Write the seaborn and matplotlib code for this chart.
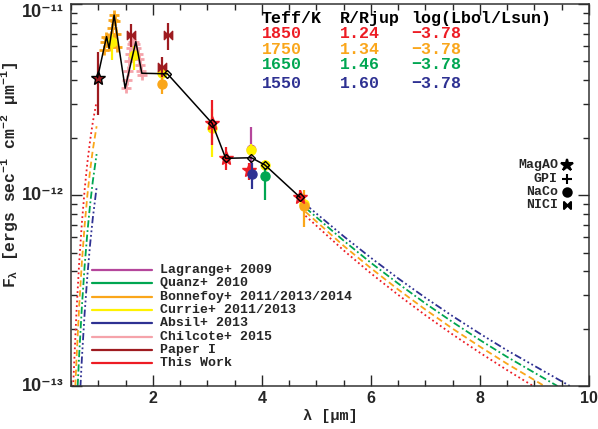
import numpy as np
import pandas as pd
import matplotlib
matplotlib.use('Agg')
import matplotlib.pyplot as plt
import seaborn as sns
from matplotlib.path import Path
from matplotlib.ticker import MultipleLocator, LogLocator, NullFormatter

# All fluxes are in units of 1e-12 ergs/s/cm2/um
scale = 1e-12

# Blackbody extrapolations, short and long wavelength pieces
bb1850_wl_s = [0.54, 0.55, 0.60, 0.65, 0.70, 0.75, 0.80, 0.85, 0.90, 0.96]
bb1850_f_s = [0.0991, 0.1153, 0.2427, 0.4406, 0.7145, 1.062, 1.472, 1.923, 2.404, 2.985]
bb1850_wl_l = [4.8, 5.5, 6.0, 6.5, 7.0, 7.5, 8.0, 8.5, 9.0]
bb1850_f_l = [0.778, 0.513, 0.389, 0.300, 0.2347, 0.186, 0.1493, 0.121, 0.099]

bb1750_wl_s = [0.58, 0.60, 0.65, 0.70, 0.75, 0.80, 0.85, 0.90, 0.97]
bb1750_f_s = [0.1002, 0.1358, 0.2612, 0.4457, 0.6902, 0.9931, 1.340, 1.722, 2.291]
bb1750_wl_l = [4.8, 5.5, 6.0, 6.5, 7.0, 7.5, 8.0, 8.5, 9.2]
bb1750_f_l = [0.817, 0.542, 0.414, 0.320, 0.2512, 0.1995, 0.1607, 0.1306, 0.0993]

bb1650_wl_s = [0.623, 0.65, 0.70, 0.75, 0.80, 0.85, 0.90, 0.97]
bb1650_f_s = [0.100, 0.1449, 0.2606, 0.4236, 0.6339, 0.889, 1.180, 1.637]
bb1650_wl_l = [4.8, 5.5, 6.0, 6.5, 7.0, 7.5, 8.0, 8.5, 9.42]
bb1650_f_l = [0.857, 0.577, 0.4416, 0.344, 0.2706, 0.216, 0.1740, 0.1419, 0.100]

bb1550_wl_s = [0.673, 0.70, 0.75, 0.80, 0.85, 0.90, 0.97]
bb1550_f_s = [0.0987, 0.1396, 0.2393, 0.3758, 0.5495, 0.7568, 1.096]
bb1550_wl_l = [4.8, 5.5, 6.0, 6.5, 7.0, 7.5, 8.0, 8.5, 9.65]
bb1550_f_l = [0.893, 0.608, 0.469, 0.366, 0.2897, 0.232, 0.1879, 0.1535, 0.100]

teff = ['1850', '1750', '1650', '1550']
radius = ['1.24', '1.34', '1.46', '1.60']
logl = ['\u22123.78', '\u22123.78', '\u22123.78', '\u22123.78']

# Composite SED used for Lbol
sed_wl = [0.987, 1.152, 1.199, 1.291, 1.493, 1.689, 1.799, 2.269, 3.09, 3.337, 3.808, 4.057, 4.70]
sed_f = [4.11, 6.75, 5.86, 8.75, 3.62, 6.35, 4.34, 4.31, 2.37, 1.556, 1.567, 1.436, 0.973]
sed_phot_wl = [2.269, 3.09, 3.337, 3.808, 4.057, 4.70]
sed_phot_f = [4.31, 2.37, 1.556, 1.567, 1.436, 0.973]

# Spectra (GPI)
bonnefoy_j_wl = [1.11, 1.13, 1.15, 1.17, 1.19, 1.21, 1.23, 1.25, 1.27, 1.29, 1.31, 1.33, 1.35]
bonnefoy_j_f = [5.75, 6.30, 6.70, 6.60, 6.00, 6.10, 6.80, 7.50, 8.20, 8.75, 8.10, 7.00, 5.95]
chilcote_h_wl = [1.50, 1.52, 1.54, 1.56, 1.58, 1.60, 1.62, 1.64, 1.66, 1.68, 1.70, 1.72,
                 1.74, 1.76, 1.78, 1.80]
chilcote_h_f = [3.63, 3.98, 4.47, 5.01, 5.50, 5.89, 6.17, 6.31, 6.31, 6.17, 5.89, 5.50,
                5.13, 4.79, 4.47, 4.27]

# Photometry: wavelength, flux, lower bound, upper bound
paper1_star_wl = [0.987]
paper1_star_f = [4.08]
paper1_star_lo = [2.62]
paper1_star_hi = [5.62]
nici_wl = [1.597, 2.178, 2.28]
nici_f = [6.89, 4.70, 6.89]
nici_lo = [5.97, 4.16, 5.75]
nici_hi = [7.85, 5.30, 7.94]

thiswork_wl = [3.09, 3.337, 3.76, 4.70]
thiswork_f = [2.37, 1.556, 1.35, 0.973]
thiswork_lo = [1.83, 1.35, 1.20, 0.923]
thiswork_hi = [3.14, 1.79, 1.47, 1.062]

lagrange_wl = [3.80]
lagrange_f = [1.74]
lagrange_lo = [1.40]
lagrange_hi = [2.28]

currie_wl = [1.25, 1.66, 2.16, 3.09, 3.80, 4.05, 4.78]
currie_f = [6.31, 5.41, 4.37, 2.23, 1.72, 1.435, 0.90]
currie_lo = [5.10, 4.50, 3.90, 1.585, 1.60, 1.35, 0.84]
currie_hi = [7.00, 6.00, 4.80, 2.82, 1.85, 1.53, 0.96]

bonnefoy_wl = [2.16, 4.78]
bonnefoy_f = [3.80, 0.871]
bonnefoy_lo = [3.37, 0.682]
bonnefoy_hi = [4.51, 1.06]

quanz_wl = [4.05]
quanz_f = [1.262]
quanz_lo = [0.94]
quanz_hi = [1.38]

absil_wl = [3.82]
absil_f = [1.288]
absil_lo = [1.07]
absil_hi = [1.47]

legend_labels = ['Lagrange+ 2009', 'Quanz+ 2010', 'Bonnefoy+ 2011/2013/2014', 'Currie+ 2011/2013',
                 'Absil+ 2013', 'Chilcote+ 2015', 'Paper I', 'This Work']
legend_colors = ['#b5469b', '#00a651', '#faa61a', '#fff200', '#2e3192', '#f5a3aa', '#9e1b20', '#ed1c24']
c_lag, c_quanz, c_bonn, c_cur, c_absil, c_chil, c_p1, c_tw = legend_colors

model_colors = ['#ed1c24', '#faa61a', '#00a651', '#2e3192']
model_ls = [(0, (1, 1.6)), (0, (3.5, 2)), (0, (4, 1.5, 1, 1.5)), (0, (4, 1.5, 1, 1.5, 1, 1.5, 1, 1.5))]

ytick_vals = [1e-13, 1e-12, 1e-11]
ytick_labels = ['10\u207b\u00b9\u00b3', '10\u207b\u00b9\u00b2', '10\u207b\u00b9\u00b9']

sns.set_style('ticks')
plt.rcParams['font.family'] = ['Liberation Sans', 'DejaVu Sans']
plt.rcParams['font.weight'] = 'bold'
plt.rcParams['mathtext.default'] = 'regular'
mono = ['Liberation Mono', 'DejaVu Sans Mono']

fig, ax = plt.subplots(figsize=(5.98, 4.29), dpi=100, facecolor='w')
fig.subplots_adjust(left=0.1187, right=0.985, bottom=0.1002, top=0.9907)
ax.set_yscale('log')

# Model curves
models = [
    (bb1850_wl_s, bb1850_f_s, bb1850_wl_l, bb1850_f_l),
    (bb1750_wl_s, bb1750_f_s, bb1750_wl_l, bb1750_f_l),
    (bb1650_wl_s, bb1650_f_s, bb1650_wl_l, bb1650_f_l),
    (bb1550_wl_s, bb1550_f_s, bb1550_wl_l, bb1550_f_l),
]
for (ws, fs, wl, fl), col, ls in zip(models, model_colors, model_ls):
    for w, f in [(ws, fs), (wl, fl)]:
        df = pd.DataFrame({'wl': w, 'flux': np.array(f) * scale})
        sns.lineplot(data=df, x='wl', y='flux', ax=ax, color=col, linestyle=ls, lw=1.3,
                     sort=False, estimator=None, legend=False, zorder=2)

def errpts(wl, f, lo, hi, color, marker, ms, mec=None, z=3, xerr=None):
    f = np.array(f)
    yerr = np.array([f - np.array(lo), np.array(hi) - f]) * scale
    ax.errorbar(wl, f * scale, yerr=yerr, xerr=xerr, fmt='none', ecolor=color,
                elinewidth=1.6, capsize=0, zorder=z)
    ax.plot(wl, f * scale, linestyle='none', marker=marker, color=color, ms=ms,
            mec=mec if mec else color, zorder=z)

# Spectra
ax.plot(bonnefoy_j_wl, np.array(bonnefoy_j_f) * scale, '+', color=c_bonn, ms=7, mew=2, zorder=3)
ax.plot(chilcote_h_wl, np.array(chilcote_h_f) * scale, '+', color=c_chil, ms=7, mew=2, zorder=3)

# Photometry
errpts(lagrange_wl, lagrange_f, lagrange_lo, lagrange_hi, c_lag, 'o', 6, z=3)
errpts(currie_wl, currie_f, currie_lo, currie_hi, c_cur, 'o', 6.5, z=3.1)
errpts(bonnefoy_wl, bonnefoy_f, bonnefoy_lo, bonnefoy_hi, c_bonn, 'o', 6.5, z=3.2)
errpts(quanz_wl, quanz_f, quanz_lo, quanz_hi, c_quanz, 'o', 6.5, z=3.2)
errpts(thiswork_wl, thiswork_f, thiswork_lo, thiswork_hi, c_tw, '*', 10, z=3.3)
errpts(absil_wl, absil_f, absil_lo, absil_hi, c_absil, 'o', 6.5, z=3.4)
bowtie = Path([(-1, -1), (-1, 1), (1, -1), (1, 1), (-1, -1)],
              [Path.MOVETO, Path.LINETO, Path.LINETO, Path.LINETO, Path.CLOSEPOLY])
errpts(nici_wl, nici_f, nici_lo, nici_hi, c_p1, bowtie, 6, z=3.4, xerr=0.07)
errpts(paper1_star_wl, paper1_star_f, paper1_star_lo, paper1_star_hi, c_p1, '*', 10, mec='k', z=3.5)

# Composite SED
sed_df = pd.DataFrame({'wl': sed_wl, 'flux': np.array(sed_f) * scale})
sns.lineplot(data=sed_df, x='wl', y='flux', ax=ax, color='k', lw=1.1, sort=False,
             estimator=None, legend=False, zorder=5)
ax.plot(sed_phot_wl, np.array(sed_phot_f) * scale, 'D', ms=4.5, mfc='none', mec='k', mew=1.0, zorder=6)

ax.set_xlim(0.5, 10)
ax.set_ylim(1e-13, 1e-11)
ax.set_xticks([2, 4, 6, 8, 10])
ax.xaxis.set_minor_locator(MultipleLocator(0.5))
ax.set_yticks(ytick_vals, labels=ytick_labels)
ax.yaxis.set_minor_locator(LogLocator(base=10, subs=np.arange(2, 10)))
ax.yaxis.set_minor_formatter(NullFormatter())
ax.tick_params(which='both', direction='in', top=True, right=True, labelsize=11.5, width=1)
ax.tick_params(which='major', length=8)
ax.tick_params(which='minor', length=4)
ax.tick_params(axis='y', pad=5)
ylabs = ax.get_yticklabels()
for lab in ylabs:
    lab.set_fontsize(13)
    lab.set_va('center')
ylabs[-1].set_va('top')
for sp in ax.spines.values():
    sp.set_linewidth(1.1)
    sp.set_color('#333333')

ax.set_xlabel('\u03bb [\u00b5m]', family=mono, fontsize=11, fontweight='bold', labelpad=2)
ax.set_ylabel('F$_\u03bb$ [ergs sec$^{-1}$ cm$^{-2}$ \u00b5m$^{-1}$]', family=mono, fontsize=11.8,
              fontweight='bold')
ax.yaxis.set_label_coords(-0.098, 0.552)

# Model table
tx = [0.368, 0.5193, 0.6577]
ty = [0.9233, 0.8814, 0.8403, 0.7924]
for x, h in zip(tx, ['Teff/K', 'R/Rjup', 'log(Lbol/Lsun)']):
    ax.text(x, 0.9626, h, transform=ax.transAxes, family=mono, fontsize=12, fontweight='bold',
            va='center', ha='left', color='k')
for y, t, r, l, c in zip(ty, teff, radius, logl, model_colors):
    for x, s in zip(tx, [t, r, l]):
        ax.text(x, y, s, transform=ax.transAxes, family=mono, fontsize=12, fontweight='bold',
                va='center', ha='left', color=c)

# Reference legend
for i, (lab, col) in enumerate(zip(legend_labels, legend_colors)):
    y = 0.3037 - i * 0.0349
    ax.plot([0.040, 0.156], [y, y], color=col, lw=1.6, transform=ax.transAxes)
    ax.text(0.172, y, lab, transform=ax.transAxes, family=mono, fontsize=9.5, fontweight='bold',
            va='center', ha='left')

# Instrument symbols
inst = ['MagAO', 'GPI', 'NaCo', 'NICI']
inst_marker = ['*', '+', 'o', bowtie]
inst_ms = [9, 7, 6, 5]
inst_y = [0.5785, 0.5419, 0.5086, 0.4738]
for lab, mk, ms, y in zip(inst, inst_marker, inst_ms, inst_y):
    ax.text(0.940, y, lab, transform=ax.transAxes, family=mono, fontsize=9.5, fontweight='bold',
            va='center', ha='right')
    ax.plot(0.9575, y, marker=mk, color='k', ms=ms, mew=1.5, transform=ax.transAxes)

fig.savefig('out.png', dpi=100, facecolor='w')
